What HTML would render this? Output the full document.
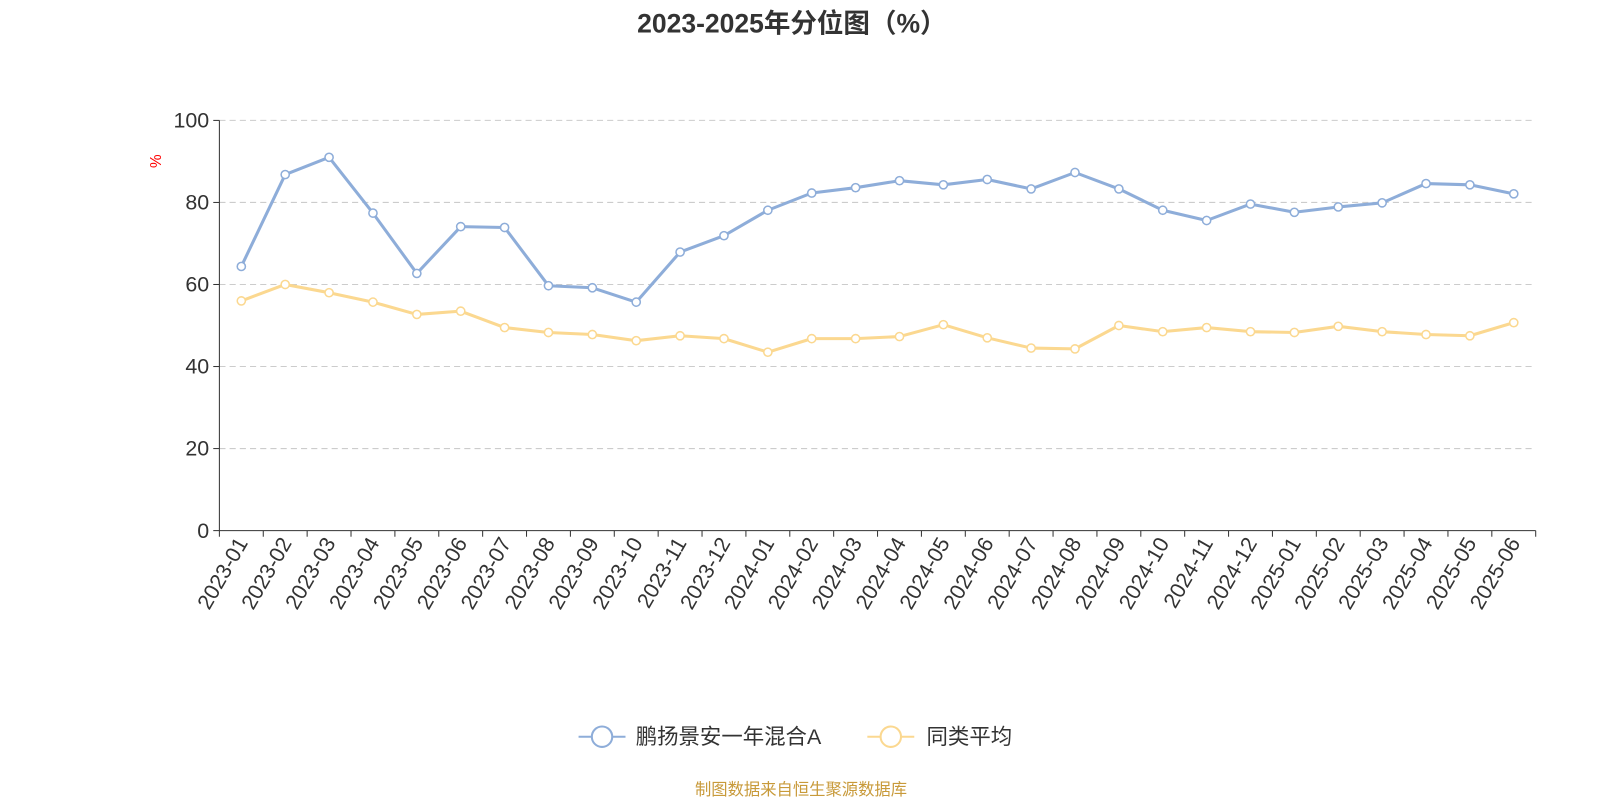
<!DOCTYPE html>
<html><head><meta charset="utf-8"><style>
body{margin:0;background:#fff;width:1600px;height:800px;overflow:hidden;font-family:"Liberation Sans","Noto Sans CJK SC",sans-serif}
</style></head><body>
<svg width="1600" height="800" xmlns="http://www.w3.org/2000/svg" font-family="Liberation Sans, Noto Sans CJK SC, sans-serif">
<g transform="scale(1.0204)">
<text x="776" y="32" text-anchor="middle" font-size="26" font-weight="bold" fill="#333">2023-2025年分位图（%）</text>
<text x="0" y="0" transform="translate(158,158) rotate(-90)" text-anchor="middle" font-size="15" fill="red">%</text>
<g id="grid"></g><g id="axes"></g><g id="series"></g>
<g>
<g>
<line x1="567" y1="722" x2="613" y2="722" stroke="#8eadd9" stroke-width="2"/><circle cx="590" cy="722" r="10" fill="#fff" stroke="#8eadd9" stroke-width="2"/>
<text x="623" y="729" font-size="21" fill="#333">鹏扬景安一年混合A</text></g>
<g>
<line x1="850" y1="722" x2="896" y2="722" stroke="#fbd890" stroke-width="2"/><circle cx="873" cy="722" r="10" fill="#fff" stroke="#fbd890" stroke-width="2"/>
<text x="908" y="729" font-size="21" fill="#333">同类平均</text></g>
</g>
<text x="785" y="779" text-anchor="middle" font-size="16" fill="#c89a3a">制图数据来自恒生聚源数据库</text>
</g>
</svg>
<script>
const categories=["2023-01","2023-02","2023-03","2023-04","2023-05","2023-06","2023-07","2023-08","2023-09","2023-10","2023-11","2023-12","2024-01","2024-02","2024-03","2024-04","2024-05","2024-06","2024-07","2024-08","2024-09","2024-10","2024-11","2024-12","2025-01","2025-02","2025-03","2025-04","2025-05","2025-06"];
const fundValues=[64.4,86.8,91.0,77.4,62.7,74.1,73.9,59.7,59.2,55.7,67.9,71.9,78.1,82.3,83.6,85.3,84.3,85.6,83.3,87.3,83.3,78.1,75.6,79.6,77.6,78.9,79.9,84.6,84.3,82.1];
const avgValues=[56.0,60.0,58.0,55.7,52.7,53.5,49.5,48.3,47.8,46.3,47.5,46.8,43.5,46.8,46.8,47.3,50.2,47.0,44.5,44.3,50.0,48.5,49.5,48.5,48.3,49.8,48.5,47.8,47.5,50.7];
const yTicks=[0,20,40,60,80,100];
const NS="http://www.w3.org/2000/svg";
const L=215,R=1505,T=118,B=520;
const bw=(R-L)/categories.length;
const xS=i=>L+bw*(i+0.5);
const yS=v=>B-(v/100)*(B-T);
function mk(tag,attrs,parent){const e=document.createElementNS(NS,tag);for(const k in attrs)e.setAttribute(k,attrs[k]);parent.appendChild(e);return e;}
const grid=document.getElementById('grid'),axes=document.getElementById('axes'),ser=document.getElementById('series');
yTicks.forEach(v=>{
 if(v>0){const g=mk('line',{x1:L,x2:R,y1:yS(v),y2:yS(v),stroke:'#ccc','stroke-dasharray':'6,4'},grid);
 
 }
 const tk=mk('line',{x1:L-6,x2:L,y1:yS(v),y2:yS(v),stroke:'#333'},axes);
 
 
 const t=mk('text',{x:L-10,y:yS(v)+7,'text-anchor':'end','font-size':21,fill:'#333'},axes);
 t.textContent=v;
 
 
});
const ya=mk('line',{x1:L,x2:L,y1:T,y2:B,stroke:'#333'},axes);


const xa=mk('line',{x1:L,x2:R,y1:B,y2:B,stroke:'#333'},axes);


for(let i=0;i<=categories.length;i++){const tk=mk('line',{x1:L+bw*i,x2:L+bw*i,y1:B,y2:B+6,stroke:'#333'},axes);
 
 }
categories.forEach((c,i)=>{
 const x=xS(i);
 const t=mk('text',{x:0,y:0,transform:`translate(${x+7},${B+12}) rotate(-60)`,'text-anchor':'end','font-size':21,fill:'#333'},axes);
 t.textContent=c;
 
 
});
function series(vals,color,name){
 const p=mk('polyline',{points:vals.map((v,i)=>xS(i)+','+yS(v)).join(' '),fill:'none',stroke:color,'stroke-width':3,'stroke-linejoin':'round'},ser);
 
 
 vals.forEach((v,i)=>{const c=mk('circle',{cx:xS(i),cy:yS(v),r:4,fill:'#fff',stroke:color,'stroke-width':1.5},ser);
 
 });
}
series(avgValues,'#fbd890','average');
series(fundValues,'#8eadd9','fund');
</script>
</body></html>
